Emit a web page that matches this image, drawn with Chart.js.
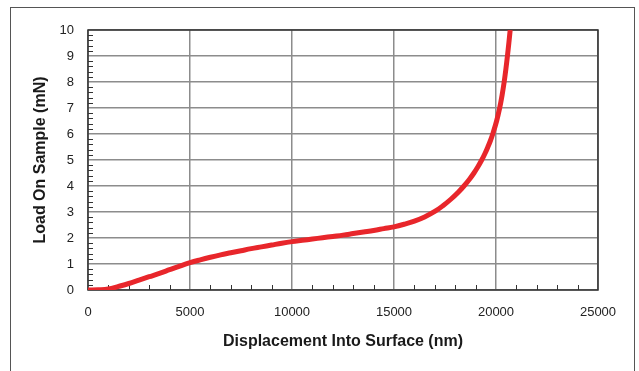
<!DOCTYPE html>
<html>
<head>
<meta charset="utf-8">
<script src="https://cdn.jsdelivr.net/npm/chart.js@4/dist/chart.umd.min.js"></script>
<style>
  html, body { margin: 0; padding: 0; background: #fff; }
  #wrap { position: relative; width: 639px; height: 371px; overflow: hidden; }
  #frame { position: absolute; left: 10px; top: 7px; width: 625px; height: 400px; border: 1px solid #555; box-sizing: border-box; pointer-events: none; }
  canvas { position: absolute; left: 0; top: 0; }
</style>
</head>
<body>
<div id="wrap">
  <div id="frame"></div>
  <canvas id="c" width="639" height="371"></canvas>
</div>
<script>
// Displacement Into Surface (nm)
const displacement = [0, 500, 1000, 1500, 2000, 2500, 3000, 3500, 4000, 4500, 5000, 5500, 6000, 6500, 7000, 7500, 8000, 8500, 9000, 9500, 10000, 10500, 11000, 11500, 12000, 12500, 13000, 13500, 14000, 14500, 15000, 15500, 16000, 16500, 17000, 17400, 17800, 18150, 18430, 18700, 18920, 19120, 19300, 19460, 19600, 19730, 19840, 20030, 20180, 20300, 20400, 20485, 20560, 20630, 20695];
// Load On Sample (mN)
const load = [0, 0.01, 0.04, 0.14, 0.25, 0.38, 0.51, 0.64, 0.78, 0.92, 1.05, 1.16, 1.26, 1.35, 1.43, 1.51, 1.59, 1.66, 1.73, 1.80, 1.86, 1.91, 1.96, 2.01, 2.06, 2.11, 2.17, 2.23, 2.29, 2.36, 2.43, 2.53, 2.65, 2.81, 3.02, 3.24, 3.5, 3.76, 4.0, 4.26, 4.5, 4.75, 5.0, 5.25, 5.5, 5.75, 6.0, 6.5, 7.0, 7.5, 8.0, 8.5, 9.0, 9.5, 10];
const xTickLabels = [0, 5000, 10000, 15000, 20000, 25000];
const yTickLabels = [0, 1, 2, 3, 4, 5, 6, 7, 8, 9, 10];
const xMinorStep = 1000;
const yMinorStep = 0.2;

const points = displacement.map((x, i) => ({ x: x, y: load[i] }));

const frameAndMinor = {
  id: 'frameAndMinor',
  beforeDatasetsDraw(chart) {
    const { ctx, chartArea: a, scales: { x, y } } = chart;
    ctx.save();
    ctx.strokeStyle = '#333';
    ctx.lineWidth = 1;
    ctx.beginPath();
    for (let v = xMinorStep; v < x.max; v += xMinorStep) {
      if (xTickLabels.includes(v)) continue;
      const px = Math.round(x.getPixelForValue(v)) + 0.5;
      ctx.moveTo(px, a.bottom);
      ctx.lineTo(px, a.bottom - 5);
    }
    for (let k = 1; k * yMinorStep < y.max; k++) {
      const v = +(k * yMinorStep).toFixed(2);
      if (yTickLabels.includes(v)) continue;
      const py = Math.round(y.getPixelForValue(v)) + 0.5;
      ctx.moveTo(a.left, py);
      ctx.lineTo(a.left + 5, py);
    }
    ctx.stroke();
    ctx.lineWidth = 1.5;
    ctx.strokeStyle = '#333';
    ctx.strokeRect(a.left, a.top, a.right - a.left, a.bottom - a.top);
    ctx.restore();
  }
};

new Chart(document.getElementById('c'), {
  type: 'scatter',
  data: {
    datasets: [{
      data: points,
      showLine: true,
      borderColor: '#e8262b',
      borderWidth: 5,
      pointRadius: 0,
      tension: 0.4,
      fill: false
    }]
  },
  options: {
    responsive: false,
    animation: false,
    layout: { padding: { left: 0, right: 41, top: 30, bottom: 0 } },
    plugins: { legend: { display: false }, tooltip: { enabled: false } },
    scales: {
      x: {
        type: 'linear',
        min: 0, max: 25000,
        afterFit(s) { s.height = 81; },
        ticks: {
          stepSize: 5000,
          padding: 15,
          color: '#222',
          font: { family: 'Liberation Sans, Arial, sans-serif', size: 13 },
          callback: v => String(v)
        },
        grid: { color: '#8c8c8c', lineWidth: 1.5, drawTicks: false },
        border: { display: false },
        title: {
          display: true,
          text: 'Displacement Into Surface (nm)',
          color: '#1a1a1a',
          font: { family: 'Liberation Sans, Arial, sans-serif', size: 16, weight: 'bold' },
          padding: { top: 0, bottom: 20 }
        }
      },
      y: {
        type: 'linear',
        min: 0, max: 10,
        afterFit(s) { s.width = 88; },
        ticks: {
          stepSize: 1,
          padding: 14,
          color: '#222',
          font: { family: 'Liberation Sans, Arial, sans-serif', size: 13 }
        },
        grid: { color: '#8c8c8c', lineWidth: 1.5, drawTicks: false },
        border: { display: false },
        title: {
          display: true,
          text: 'Load On Sample (mN)',
          color: '#1a1a1a',
          font: { family: 'Liberation Sans, Arial, sans-serif', size: 16, weight: 'bold' },
          padding: { top: 31, bottom: 0 }
        }
      }
    }
  },
  plugins: [frameAndMinor]
});
</script>
</body>
</html>
